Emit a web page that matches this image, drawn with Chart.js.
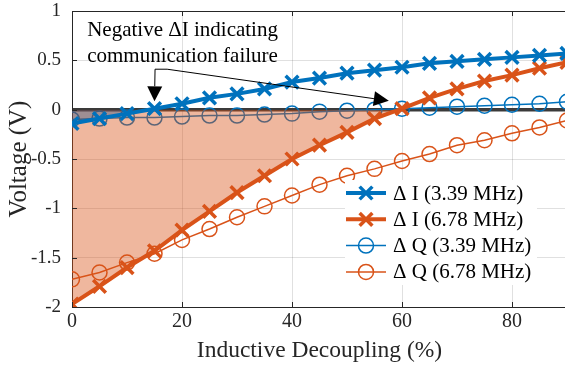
<!DOCTYPE html>
<html>
<head>
<meta charset="utf-8">
<script src="https://cdn.jsdelivr.net/npm/chart.js@4/dist/chart.umd.min.js"></script>
<style>
  body { margin: 0; background: #fff; overflow: hidden; }
  #wrap { width: 569px; height: 367px; }
</style>
</head>
<body>
<div id="wrap"><canvas id="myChart"></canvas></div>
<script>
// inductive decoupling in %, one point every 5 %
const decoupling = [0, 5, 10, 15, 20, 25, 30, 35, 40, 45, 50, 55, 60, 65, 70, 75, 80, 85, 90];
const deltaI339 = [-0.14, -0.09, -0.04, 0.01, 0.06, 0.12, 0.16, 0.21, 0.28, 0.32, 0.37, 0.40, 0.43, 0.47, 0.49, 0.51, 0.53, 0.55, 0.57];
const deltaI678 = [-1.97, -1.79, -1.60, -1.43, -1.22, -1.03, -0.84, -0.67, -0.50, -0.36, -0.23, -0.09, 0.01, 0.12, 0.21, 0.29, 0.35, 0.42, 0.48];
const deltaQ339 = [-0.10, -0.09, -0.08, -0.08, -0.07, -0.06, -0.06, -0.05, -0.04, -0.02, -0.01, 0.00, 0.01, 0.02, 0.03, 0.04, 0.05, 0.06, 0.08];
const deltaQ678 = [-1.72, -1.65, -1.55, -1.46, -1.32, -1.21, -1.09, -0.98, -0.87, -0.76, -0.67, -0.60, -0.52, -0.45, -0.36, -0.31, -0.24, -0.18, -0.11];

const seriesLabels = ["\u0394 I (3.39 MHz)", "\u0394 I (6.78 MHz)", "\u0394 Q (3.39 MHz)", "\u0394 Q (6.78 MHz)"];
const xTicks = [0, 20, 40, 60, 80];
const yTicks = [-2, -1.5, -1, -0.5, 0, 0.5, 1];
const noteLines = ["Negative \u0394I indicating", "communication failure"];

const BLUE = "#0072BD";
const ORANGE = "#D95319";
const FONT = "'Liberation Serif', 'Times New Roman', serif";

function pts(arr) {
  return decoupling.map((x, i) => ({ x: x, y: arr[i] }));
}

// MATLAB style box, inward ticks
const boxPlugin = {
  id: "box",
  afterDatasetsDraw(chart) {
    const { ctx, chartArea: a, scales } = chart;
    ctx.save();
    ctx.strokeStyle = "#262626";
    ctx.lineWidth = 1;
    ctx.beginPath();
    ctx.moveTo(a.left, a.top + 0.5);
    ctx.lineTo(a.right, a.top + 0.5);
    xTicks.forEach(v => {
      const px = Math.round(scales.x.getPixelForValue(v)) + 0.5;
      ctx.moveTo(px, a.top); ctx.lineTo(px, a.top + 5);
      ctx.moveTo(px, a.bottom); ctx.lineTo(px, a.bottom - 5);
    });
    yTicks.forEach(v => {
      const py = Math.round(scales.y.getPixelForValue(v)) + 0.5;
      ctx.moveTo(a.left, py); ctx.lineTo(a.left + 5, py);
    });
    ctx.stroke();
    ctx.restore();
  }
};

// arrows + text of the annotation, placed in data units
const notePlugin = {
  id: "note",
  afterDatasetsDraw(chart) {
    const { ctx, scales } = chart;
    const X = v => scales.x.getPixelForValue(v);
    const Y = v => scales.y.getPixelForValue(v);
    ctx.save();
    ctx.fillStyle = "#000";
    ctx.strokeStyle = "#000";
    ctx.font = "21px " + FONT;
    ctx.textAlign = "center";
    ctx.textBaseline = "middle";
    ctx.fillText(noteLines[0], X(20.1), Y(0.8));
    ctx.fillText(noteLines[1], X(20.1), Y(0.535));

    function arrow(x0, y0, x1, y1) {
      const ang = Math.atan2(y1 - y0, x1 - x0);
      const len = 15, half = 7.5;
      const bx = x1 - len * Math.cos(ang), by = y1 - len * Math.sin(ang);
      ctx.beginPath();
      ctx.moveTo(x0, y0); ctx.lineTo(bx, by);
      ctx.stroke();
      ctx.beginPath();
      ctx.moveTo(x1, y1);
      ctx.lineTo(bx + half * Math.sin(ang), by - half * Math.cos(ang));
      ctx.lineTo(bx - half * Math.sin(ang), by + half * Math.cos(ang));
      ctx.closePath();
      ctx.fill();
    }
    ctx.lineWidth = 1;
    ctx.beginPath();
    ctx.moveTo(X(15.1), Y(0.41));
    ctx.lineTo(X(17.3), Y(0.41));
    ctx.stroke();
    arrow(X(15.1), Y(0.41), X(15.0), Y(0.085));
    arrow(X(17.3), Y(0.41), X(57.6), Y(0.09));
    ctx.restore();
  }
};

// legend inside the axes, lower right
const legendPlugin = {
  id: "boxLegend",
  afterDraw(chart) {
    const { ctx } = chart;
    const left = 345, top = 180, w = 192, h = 105;
    ctx.save();
    ctx.fillStyle = "#fff";
    ctx.fillRect(left, top, w, h);
    ctx.font = "21px " + FONT;
    ctx.textBaseline = "middle";
    ctx.textAlign = "left";
    chart.data.datasets.forEach((ds, i) => {
      const y = 193 + i * 26.3;
      ctx.strokeStyle = ds.borderColor;
      ctx.lineWidth = ds.borderWidth;
      ctx.beginPath();
      ctx.moveTo(left + 1, y);
      ctx.lineTo(left + 41, y);
      ctx.stroke();
      const mx = left + 21;
      ctx.lineWidth = ds.pointBorderWidth;
      ctx.beginPath();
      if (ds.pointStyle === "crossRot") {
        const r = ds.pointRadius * 0.707;
        ctx.moveTo(mx - r, y - r); ctx.lineTo(mx + r, y + r);
        ctx.moveTo(mx + r, y - r); ctx.lineTo(mx - r, y + r);
      } else {
        ctx.arc(mx, y, ds.pointRadius, 0, Math.PI * 2);
      }
      ctx.stroke();
      ctx.fillStyle = "#000";
      ctx.fillText(ds.label, left + 48, y + 1);
    });
    ctx.restore();
  }
};

new Chart(document.getElementById("myChart"), {
  type: "line",
  data: {
    datasets: [
      {
        label: seriesLabels[0], data: pts(deltaI339),
        borderColor: BLUE, borderWidth: 4, pointStyle: "crossRot",
        pointRadius: 9, pointBorderWidth: 3.5, pointBorderColor: BLUE, pointBackgroundColor: BLUE,
        fill: { target: { value: 0 }, above: "rgba(0,0,0,0)", below: "rgba(40,80,130,0.4)" },
        order: 1
      },
      {
        label: seriesLabels[1], data: pts(deltaI678),
        borderColor: ORANGE, borderWidth: 4, pointStyle: "crossRot",
        pointRadius: 9, pointBorderWidth: 3.5, pointBorderColor: ORANGE, pointBackgroundColor: ORANGE,
        fill: { target: { value: 0 }, above: "rgba(0,0,0,0)", below: "rgba(217,83,25,0.42)" },
        order: 2
      },
      {
        label: seriesLabels[2], data: pts(deltaQ339),
        borderColor: BLUE, borderWidth: 1.5, pointStyle: "circle",
        pointRadius: 7.5, pointBorderWidth: 1.5, pointBorderColor: BLUE, pointBackgroundColor: "rgba(0,0,0,0)",
        fill: false, order: 3
      },
      {
        label: seriesLabels[3], data: pts(deltaQ678),
        borderColor: ORANGE, borderWidth: 1.5, pointStyle: "circle",
        pointRadius: 7.5, pointBorderWidth: 1.5, pointBorderColor: ORANGE, pointBackgroundColor: "rgba(0,0,0,0)",
        fill: false, order: 4
      }
    ]
  },
  options: {
    responsive: true,
    maintainAspectRatio: false,
    animation: false,
    layout: { autoPadding: false, padding: { top: 11, left: 0, right: 2, bottom: 0 } },
    elements: { line: { tension: 0 } },
    plugins: {
      legend: { display: false },
      tooltip: { enabled: false }
    },
    scales: {
      x: {
        type: "linear", min: 0, max: 90,
        afterBuildTicks: s => { s.ticks = xTicks.map(v => ({ value: v })); },
        afterFit: s => { s.height = 60; s.paddingLeft = 0; s.paddingRight = 0; },
        ticks: { color: "#262626", font: { family: FONT, size: 20 }, padding: 3, callback: v => String(v) },
        grid: { color: "rgba(0,0,0,0.12)", lineWidth: 1, drawTicks: false },
        border: { color: "#262626", width: 1 },
        title: { display: true, text: "Inductive Decoupling (%)", color: "#262626", font: { family: FONT, size: 23.5 }, padding: { top: 0, bottom: 2 } }
      },
      y: {
        type: "linear", min: -2, max: 1,
        afterBuildTicks: s => { s.ticks = yTicks.map(v => ({ value: v })); },
        afterFit: s => { s.width = 72; s.paddingTop = 0; s.paddingBottom = 0; },
        ticks: { color: "#262626", font: { family: FONT, size: 19 }, padding: 11, callback: v => String(v) },
        grid: {
          drawTicks: false,
          color: c => c.tick && c.tick.value === 0 ? "#3a3a3a" : "rgba(0,0,0,0.12)",
          lineWidth: c => c.tick && c.tick.value === 0 ? 3.5 : 1
        },
        border: { color: "#262626", width: 1 },
        title: { display: true, text: "Voltage (V)", color: "#262626", font: { family: FONT, size: 25 }, padding: { top: 4, bottom: 0 } }
      }
    }
  },
  plugins: [boxPlugin, notePlugin, legendPlugin]
});
</script>
</body>
</html>
